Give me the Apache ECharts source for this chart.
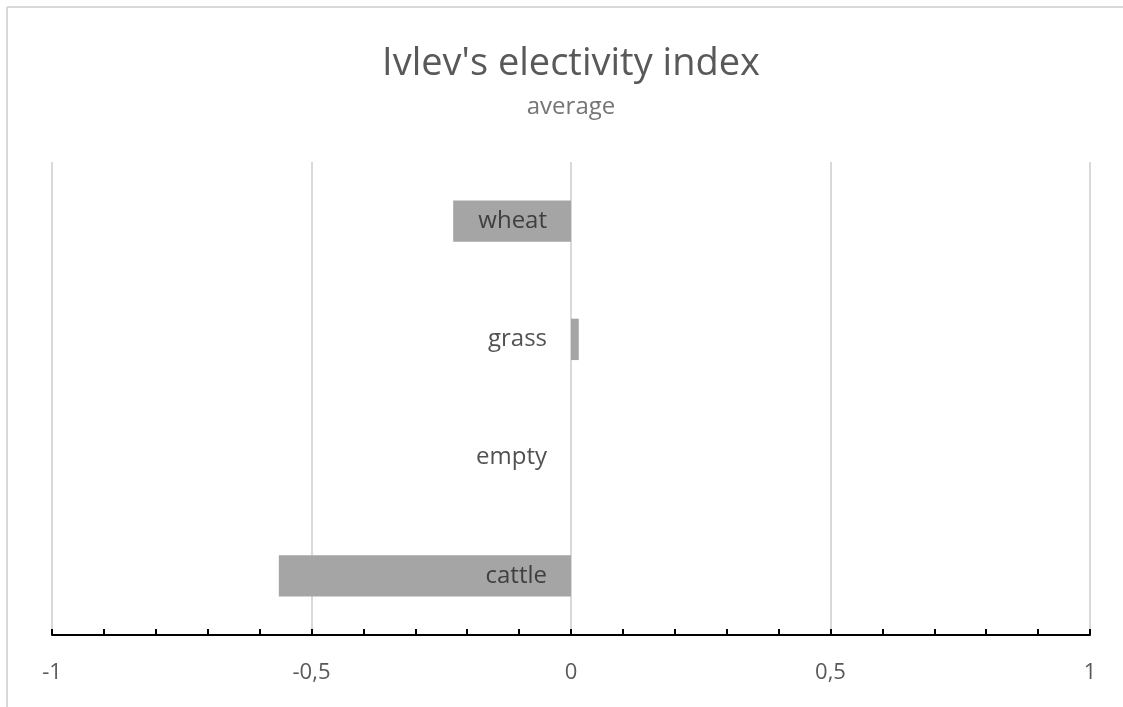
<!DOCTYPE html>
<html>
<head>
<meta charset="utf-8">
<script src="https://cdn.jsdelivr.net/npm/echarts@6/dist/echarts.min.js"></script>
<style>
  html, body { margin: 0; padding: 0; background: #ffffff; }
  #chart { width: 1123px; height: 707px; }
</style>
</head>
<body>
<div id="chart"></div>
<script>
// Categories listed bottom-to-top (category axis grows upward)
const categories = ['cattle', 'empty', 'grass', 'wheat'];
const values = [-0.563, 0, 0.015, -0.227];
const axisMin = -1;
const axisMax = 1;
const axisStep = 0.5;

const chart = echarts.init(document.getElementById('chart'), null, { renderer: 'canvas' });

const fontFamily = '"Open Sans", "Noto Sans", sans-serif';

chart.setOption({
  animation: false,
  backgroundColor: '#ffffff',
  title: {
    text: "Ivlev's electivity index",
    subtext: 'average',
    left: 566,
    textAlign: 'center',
    top: 40,
    itemGap: 12,
    textStyle: { fontFamily: fontFamily, fontSize: 38, fontWeight: 'normal', color: '#595959' },
    subtextStyle: { fontFamily: fontFamily, fontSize: 24, color: '#757575' }
  },
  graphic: [
    {
      type: 'line',
      shape: { x1: 7, y1: 7, x2: 1123, y2: 7 },
      style: { stroke: '#d9d9d9', lineWidth: 2 },
      silent: true
    },
    {
      type: 'line',
      shape: { x1: 7, y1: 7, x2: 7, y2: 707 },
      style: { stroke: '#d9d9d9', lineWidth: 2 },
      silent: true
    }
  ],
  grid: { left: 52, right: 33, top: 162, bottom: 72, containLabel: false, outerBoundsMode: 'none' },
  xAxis: {
    type: 'value',
    min: axisMin,
    max: axisMax,
    interval: axisStep,
    axisLine: { show: true, onZero: false, lineStyle: { color: '#000000', width: 2 } },
    axisTick: { show: true, inside: true, length: 6, lineStyle: { color: '#000000', width: 2 } },
    minorTick: { show: true, splitNumber: 5, length: 6, lineStyle: { color: '#000000', width: 2 } },
    splitLine: { show: true, lineStyle: { color: '#d9d9d9', width: 2 } },
    axisLabel: {
      margin: 27,
      fontFamily: fontFamily,
      fontSize: 22,
      color: '#595959',
      formatter: v => String(v).replace('.', ',')
    }
  },
  yAxis: {
    type: 'category',
    data: categories,
    axisLine: { show: false },
    axisTick: { show: false },
    splitLine: { show: false },
    axisLabel: { show: false }
  },
  series: [
    {
      type: 'bar',
      data: values,
      barWidth: '35%',
      itemStyle: { color: '#a5a5a5' },
      z: 2
    },
    {
      // category names sit just left of the zero line
      type: 'scatter',
      data: categories.map(c => [0, c]),
      symbolSize: 0,
      silent: true,
      z: 5,
      label: {
        show: true,
        position: 'left',
        distance: 24,
        formatter: p => p.value[1],
        fontFamily: fontFamily,
        fontSize: 24,
        color: '#262626'
      }
    }
  ]
});
</script>
</body>
</html>
